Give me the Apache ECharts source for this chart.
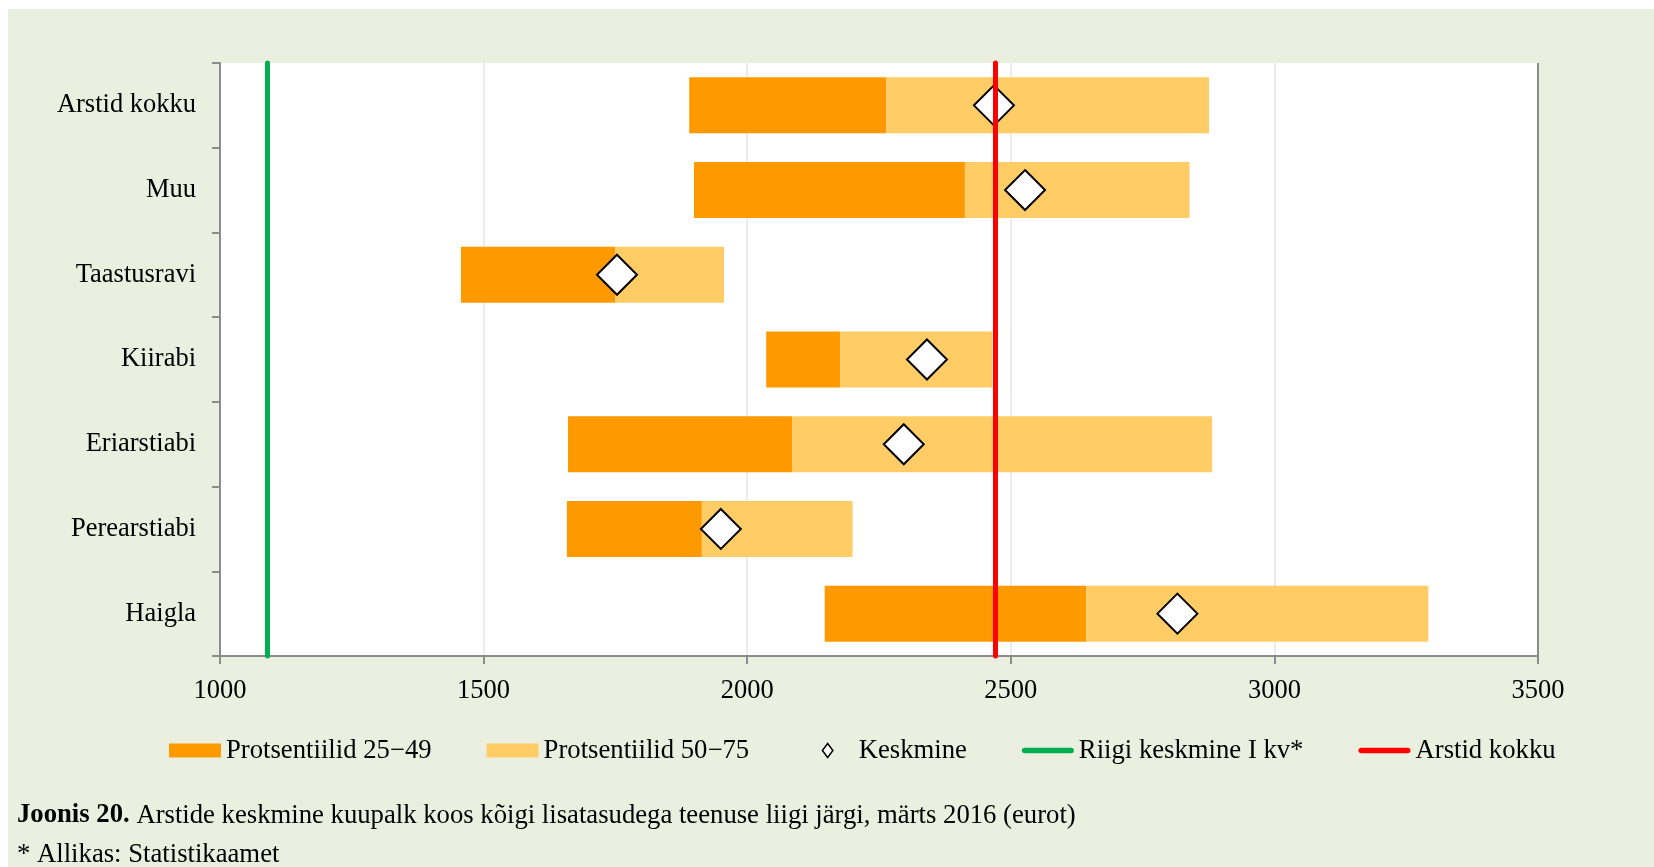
<!DOCTYPE html>
<html lang="et">
<head>
  <meta charset="UTF-8">
  <title>Joonis 20</title>
  <style>
    html, body { margin: 0; padding: 0; background: #ffffff; }
    #myEcharts {
      position: absolute;
      left: 8px;
      top: 9px;
      width: 1646px;
      height: 858px;
    }
  </style>
  <script src="https://cdn.jsdelivr.net/npm/echarts@6/dist/echarts.min.js"></script>
</head>
<body>
<div id="myEcharts"></div>

<script>
  // andmed (loetud jooniselt)
  var categories = ['Arstid kokku', 'Muu', 'Taastusravi', 'Kiirabi', 'Eriarstiabi', 'Perearstiabi', 'Haigla'];
  var p25 = [1890, 1899, 1457, 2036, 1660, 1658, 2147];
  var p50 = [2264, 2413, 1750, 2176, 2085, 1914, 2643];
  var p75 = [2876, 2839, 1956, 2465, 2882, 2200, 3292];
  var keskmine = [2468, 2527, 1753, 2341, 2297, 1950, 2816];
  var riigiKeskmine = 1090;
  var arstidKokku = 2470;
  var xTicks = [1000, 1500, 2000, 2500, 3000, 3500];

  var font = '"Liberation Serif", "Times New Roman", serif';

  // virnastatud tulpade osad
  var lower = p50.map(function (v, i) { return v - p25[i]; });
  var upper = p75.map(function (v, i) { return v - p50[i]; });
  var means = keskmine.map(function (v, i) { return [v, categories[i]]; });

  // legendi ikoonid (nähtamatud M-punktid hoiavad kasti suuruse)
  var lineIcon = 'path://M0,0 M52,14 M1,4 L51,4 A3,3 0 0 1 51,10 L1,10 A3,3 0 0 1 1,4 Z';
  var diamondIcon = 'path://M0,0 M52,0 M0,16 M52,16 M26,0 L32,8 L26,16 L20,8 Z';

  var myChart = echarts.init(document.getElementById('myEcharts'));

  var option = {
    animation: false,
    backgroundColor: '#EBEFDF',
    textStyle: { fontFamily: font },
    grid: {
      left: 212,
      right: 116,
      top: 54,
      bottom: 211,
      show: true,
      backgroundColor: '#ffffff',
      borderWidth: 0
    },
    legend: {
      left: 156,
      top: 723,
      itemWidth: 52,
      itemHeight: 14,
      itemGap: 55,
      textStyle: { fontFamily: font, fontSize: 26.7, color: '#000' },
      data: [
        { name: 'Protsentiilid 25\u221249', icon: 'rect' },
        { name: 'Protsentiilid 50\u221275', icon: 'rect' },
        { name: 'Keskmine', icon: diamondIcon, itemStyle: { color: '#fff', borderColor: '#000', borderWidth: 1.5 } },
        { name: 'Riigi keskmine I kv*', icon: lineIcon, itemStyle: { color: '#00B050' } },
        { name: 'Arstid kokku', icon: lineIcon, itemStyle: { color: '#FF0000' } }
      ]
    },
    xAxis: {
      type: 'value',
      min: xTicks[0],
      max: xTicks[xTicks.length - 1],
      interval: 500,
      axisLine: { show: true, lineStyle: { color: '#8c8c8c', width: 2 } },
      axisTick: { show: true, length: 8, lineStyle: { color: '#8c8c8c', width: 2 } },
      axisLabel: {
        fontFamily: font, fontSize: 26.5, color: '#000', margin: 22,
        formatter: function (v) { return String(v); }
      },
      splitLine: {
        show: true,
        lineStyle: { color: ['#ececec', '#ececec', '#ececec', '#ececec', '#ececec', '#8c8c8c'], width: 2 }
      }
    },
    yAxis: {
      type: 'category',
      inverse: true,
      data: categories,
      axisLine: { show: true, lineStyle: { color: '#8c8c8c', width: 2 } },
      axisTick: { show: true, length: 8, lineStyle: { color: '#8c8c8c', width: 2 } },
      axisLabel: { fontFamily: font, fontSize: 26.5, color: '#000', margin: 24, padding: [8, 0, 0, 0] }
    },
    series: [
      {
        name: 'base',
        type: 'bar',
        stack: 'p',
        barWidth: 56,
        itemStyle: { color: 'rgba(0,0,0,0)' },
        data: p25
      },
      {
        name: 'Protsentiilid 25\u221249',
        type: 'bar',
        stack: 'p',
        itemStyle: { color: '#FF9900' },
        data: lower
      },
      {
        name: 'Protsentiilid 50\u221275',
        type: 'bar',
        stack: 'p',
        itemStyle: { color: '#FFCC66' },
        data: upper
      },
      {
        name: 'Keskmine',
        type: 'scatter',
        symbol: 'diamond',
        symbolSize: 40,
        itemStyle: { color: '#ffffff', borderColor: '#000000', borderWidth: 2, opacity: 1 },
        z: 5,
        data: means
      },
      {
        name: 'Riigi keskmine I kv*',
        type: 'line',
        symbol: 'none',
        color: '#00B050',
        lineStyle: { color: '#00B050', width: 6 },
        data: [],
        markLine: {
          silent: true,
          symbol: 'none',
          z: 10,
          label: { show: false },
          lineStyle: { color: '#00B050', width: 5, type: 'solid', cap: 'round' },
          data: [{ xAxis: riigiKeskmine }]
        }
      },
      {
        name: 'Arstid kokku',
        type: 'line',
        symbol: 'none',
        color: '#FF0000',
        lineStyle: { color: '#FF0000', width: 6 },
        data: [],
        markLine: {
          silent: true,
          symbol: 'none',
          z: 10,
          label: { show: false },
          lineStyle: { color: '#FF0000', width: 5, type: 'solid', cap: 'round' },
          data: [{ xAxis: arstidKokku }]
        }
      }
    ],
    graphic: [
      {
        type: 'text',
        left: 9,
        top: 793,
        style: {
          text: '{b|Joonis 20.} Arstide keskmine kuupalk koos kõigi lisatasudega teenuse liigi järgi, märts 2016 (eurot)',
          font: '26.7px ' + font,
          fill: '#000',
          rich: {
            b: { fontWeight: 'bold', fontSize: 26.7, fontFamily: font, fill: '#000' }
          }
        }
      },
      {
        type: 'text',
        left: 9,
        top: 832,
        style: {
          text: '* Allikas: Statistikaamet',
          font: '26.7px ' + font,
          fill: '#000'
        }
      }
    ]
  };

  myChart.setOption(option);
</script>
</body>
</html>
